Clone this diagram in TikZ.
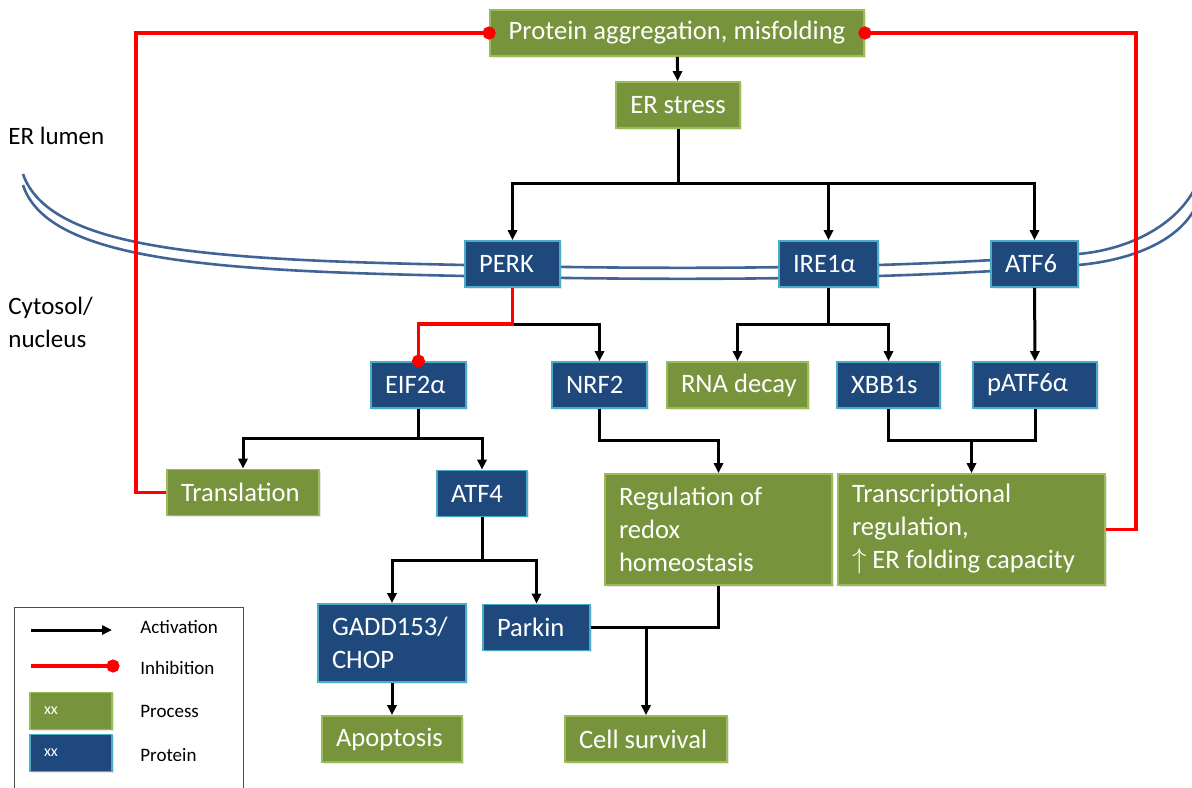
\documentclass[tikz,border=0pt]{standalone}
\usepackage{fontspec}
\setmainfont{Carlito}
\usetikzlibrary{arrows.meta,shadows}

\definecolor{procfill}{RGB}{119,147,60}
\definecolor{procline}{RGB}{155,187,89}
\definecolor{protfill}{RGB}{31,73,125}
\definecolor{protline}{RGB}{75,172,198}
\definecolor{membblue}{RGB}{65,100,150}
\definecolor{inhibred}{RGB}{255,0,0}

\begin{document}
\begin{tikzpicture}[x=0.5pt,y=-0.5pt,>=stealth,
  box/.style={draw,line width=0.9pt,text=white,align=flush left,inner xsep=7pt,inner ysep=0pt,
    minimum height=23pt,font=\fontsize{13.3}{16.5}\selectfont,
    drop shadow={shadow xshift=0.8pt,shadow yshift=-0.8pt,opacity=0.2}},
  proc/.style={box,fill=procfill,draw=procline},
  prot/.style={box,fill=protfill,draw=protline},
  link/.style={line width=1.5pt},
  act/.style={link,-{Triangle[length=5pt,width=4.6pt]}},
  inhib/.style={line width=1.8pt,inhibred,-{Circle[length=6.5pt]},shorten >=-3.25pt},
  memb/.style={line width=1.3pt,membblue},
  lbl/.style={anchor=west,inner sep=0pt,align=left,font=\fontsize{12.5}{16.5}\selectfont},
  legtext/.style={anchor=west,inner sep=0pt,font=\fontsize{9.5}{11}\selectfont}]
\useasboundingbox (0,0) rectangle (1192,787);

% ER membrane
\draw[memb] (23,174) .. controls (50,252) and (220,260) .. (465,265)
  .. controls (750,272) and (950,265) .. (1078,254)
  .. controls (1130,249.5) and (1175,225) .. (1194,190);
\draw[memb] (23,185) .. controls (48,262) and (220,271) .. (465,276)
  .. controls (750,283) and (950,276) .. (1078,265)
  .. controls (1130,260.5) and (1176,242) .. (1194,210);

\node[lbl] (lumen) at (8,136) {ER lumen};
\node[lbl] (cyto) at (8,322) {Cytosol/\\nucleus};

% boxes
\node[proc,align=center,minimum width=187pt] (agg) at (677,33) {Protein aggregation, misfolding};
\node[proc,align=center,minimum width=62pt] (ers) at (678,105) {ER stress};
\node[prot,text width=33.5pt] (perk) at (512.5,264) {PERK};
\node[prot,text width=35.5pt] (ire) at (828.5,264) {IRE1α};
\node[prot,text width=29.5pt] (atf6) at (1034.5,264) {ATF6};
\node[prot,text width=33.5pt] (eif) at (418.5,385) {EIF2α};
\node[prot,text width=33.5pt] (nrf) at (599.5,385) {NRF2};
\node[proc,text width=56.5pt] (rna) at (737.5,385) {\mbox{RNA decay}};
\node[prot,text width=37.5pt] (xbb) at (888.5,385) {XBB1s};
\node[prot,text width=48pt] (patf) at (1035,385) {pATF6α};
\node[proc,text width=62pt] (trans) at (243,492.5) {\mbox{Translation}};
\node[prot,text width=31pt] (atf4) at (482,493.5) {ATF4};
\node[proc,text width=99.5pt,minimum height=55.5pt] (redox) at (718.5,529.5) {\mbox{Regulation of}\\redox\\homeostasis};
\node[proc,text width=119.5pt,minimum height=55.5pt] (tr) at (971.5,529.5) {Transcriptional\\regulation,\\\mbox{$\uparrow$ ER folding capacity}};
\node[prot,text width=60pt,minimum height=39pt] (gadd) at (392,643) {GADD153/\\CHOP};
\node[prot,text width=39.5pt] (park) at (536.5,627.5) {Parkin};
\node[proc,text width=56pt] (apop) at (392,739) {Apoptosis};
\node[proc,text width=67pt] (cell) at (646,739) {\mbox{Cell survival}};

% junctions
\coordinate (ersj) at (678,183);
\coordinate (perkj) at (512.5,324);
\coordinate (irej) at (828.5,324);
\coordinate (eifj) at (418.5,438);
\coordinate (xj) at (971.5,440);
\coordinate (atf4j) at (482,560);
\coordinate (cellj) at (646,627.5);

\draw[act] (agg) -- (ers);
\draw[link] (ers) -- (ersj);
\foreach \t in {perk,ire,atf6}
  \draw[act] (ersj) -| (\t.north);
\draw[link] (perk) -- (perkj);
\draw[act] (perkj) -| (nrf.north);
\draw[inhib] (perk.south) -- (perkj) -| (eif.north);
\draw[link] (ire) -- (irej);
\draw[act] (irej) -| (rna.north);
\draw[act] (irej) -| (xbb.north);
\draw[act] (atf6) -- (patf);
\draw[link] (eif) -- (eifj);
\draw[act] (eifj) -| (trans.north);
\draw[act] (eifj) -| (atf4.north);
\draw[act] (nrf.south) -- ++(0,32) -| (redox.north);
\draw[link] (xbb.south) -- ++(0,32) -| (patf.south);
\draw[act] (xj) -- (tr);
\draw[link] (atf4) -- (atf4j);
\draw[act] (atf4j) -| (gadd.north);
\draw[act] (atf4j) -| (park.north);
\draw[link] (redox.south) |- (park.east);
\draw[act] (cellj) -- (cell);
\draw[act] (gadd) -- (apop);
\draw[inhib] (trans.west) -- ++(-30,0) |- (agg.west);
\draw[inhib] (tr.east) -- ++(30,0) |- (agg.east);

% legend
\draw[black!70,line width=0.5pt] (14,795) |- (243,607) -- (243,795);
\coordinate (la) at (31,630);
\coordinate (lb) at (112,630);
\coordinate (lc) at (31,666);
\coordinate (ld) at (113,666);
\draw[act] (la) -- (lb);
\draw[inhib] (lc) -- (ld);
\node[proc,text width=27pt,minimum height=18.5pt,font=\fontsize{8}{9}\selectfont] (lproc) at (71,711) {xx};
\node[prot,text width=27pt,minimum height=18.5pt,font=\fontsize{8}{9}\selectfont] (lprot) at (71,753) {xx};
\node[legtext] (tact) at (140,627) {Activation};
\node[legtext] (tinh) at (140,668) {Inhibition};
\node[legtext] (tproc) at (140,711) {Process};
\node[legtext] (tprot) at (140,755) {Protein};
\end{tikzpicture}
\end{document}
